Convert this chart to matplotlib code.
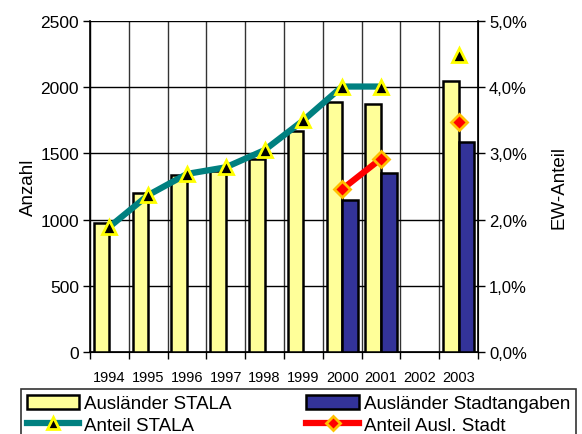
import numpy as np
import matplotlib
matplotlib.use("Agg")
import matplotlib.pyplot as plt
from matplotlib.patches import Patch
from matplotlib.lines import Line2D
from matplotlib.ticker import FuncFormatter

plt.rcParams['font.family'] = ['Liberation Sans', 'DejaVu Sans']

years = ['1994', '1995', '1996', '1997', '1998', '1999', '2000', '2001', '2002', '2003']
auslaender_stala = [975, 1200, 1340, 1365, 1460, 1670, 1890, 1870, np.nan, 2045]
auslaender_stadt = [np.nan, np.nan, np.nan, np.nan, np.nan, np.nan, 1150, 1355, np.nan, 1585]
anteil_stala = [1.89, 2.37, 2.69, 2.79, 3.05, 3.50, 4.01, 4.01, np.nan, 4.48]
anteil_stadt = [np.nan, np.nan, np.nan, np.nan, np.nan, np.nan, 2.46, 2.92, np.nan, 3.47]

c_yellow = '#FFFF99'
c_blue = '#333399'
c_teal = '#008080'
c_red = '#FF0000'

fig = plt.figure(figsize=(5.82, 4.35), dpi=100)
ax = fig.add_axes([90/582, 82/435, 388/582, 331/435])
x = np.arange(len(years))
w = 0.4
ax.bar(x - w/2, auslaender_stala, width=w, color=c_yellow, edgecolor='black', linewidth=1.8, zorder=3)
ax.bar(x + w/2, auslaender_stadt, width=w, color=c_blue, edgecolor='black', linewidth=1.8, zorder=3)
ax.set_xlim(-0.5, len(years) - 0.5)
ax.set_ylim(0, 2500)
ax.set_yticks(np.arange(0, 2501, 500))
ax.set_xticks(x)
ax.set_xticklabels(years, fontsize=10.5)
ax.set_xticks(np.arange(-0.5, len(years), 1.0), minor=True)
ax.tick_params(axis='x', which='major', length=0, pad=13)
ax.tick_params(axis='x', which='minor', length=5, width=1, direction='out')
ax.tick_params(axis='y', labelsize=12.5, length=5, width=1, direction='out', pad=3)
ax.grid(axis='y', which='major', color='black', linewidth=1, zorder=0)
ax.grid(axis='x', which='minor', color='#333333', linewidth=1, zorder=0)
ax.set_axisbelow(True)
ax.spines['top'].set_visible(False)
for s in ['left', 'right', 'bottom']:
    ax.spines[s].set_linewidth(1.2)
ax.set_ylabel('Anzahl', fontsize=13.5, labelpad=2)

ax2 = ax.twinx()
ax2.set_ylim(0, 5)
ax2.set_yticks(np.arange(0, 5.01, 1))
ax2.yaxis.set_major_formatter(FuncFormatter(lambda v, p: f'{v:.1f}%'.replace('.', ',')))
ax2.tick_params(axis='y', labelsize=12, length=5, width=1, direction='out', pad=3)
ax2.spines['top'].set_visible(False)
ax2.set_ylabel('EW-Anteil', fontsize=13.5, labelpad=17)
ax2.plot(x, anteil_stala, color=c_teal, linewidth=4.5, marker='^', markersize=10,
         markerfacecolor='black', markeredgecolor='#FFFF00', markeredgewidth=2, zorder=5)
ax2.plot(x, anteil_stadt, color=c_red, linewidth=4.5, marker='D', markersize=8,
         markerfacecolor=c_red, markeredgecolor='#FFC000', markeredgewidth=2, zorder=5)

h_stala = Patch(facecolor=c_yellow, edgecolor='black', linewidth=1.8, label='Ausländer STALA')
h_stadt = Patch(facecolor=c_blue, edgecolor='black', linewidth=1.8, label='Ausländer Stadtangaben')
h_anteil_stala = Line2D([], [], color=c_teal, linewidth=4.5, marker='^', markersize=9,
                        markerfacecolor='black', markeredgecolor='#FFFF00', markeredgewidth=2,
                        label='Anteil STALA')
h_anteil_stadt = Line2D([], [], color=c_red, linewidth=4.5, marker='D', markersize=7,
                        markerfacecolor=c_red, markeredgecolor='#FFC000', markeredgewidth=2,
                        label='Anteil Ausl. Stadt')
handles = [h_stala, h_anteil_stala, h_stadt, h_anteil_stadt]
leg = fig.legend(handles=handles, ncol=2, loc='upper left',
                 bbox_to_anchor=(21/582, 1 - 390/435),
                 fontsize=13.5, frameon=True, fancybox=False,
                 edgecolor='black', handlelength=2.8, handleheight=0.8,
                 handletextpad=0.25, borderpad=0.3, labelspacing=0.2,
                 columnspacing=4.0, borderaxespad=0)
leg.get_frame().set_linewidth(1.2)

fig.savefig('out.png', dpi=100)
